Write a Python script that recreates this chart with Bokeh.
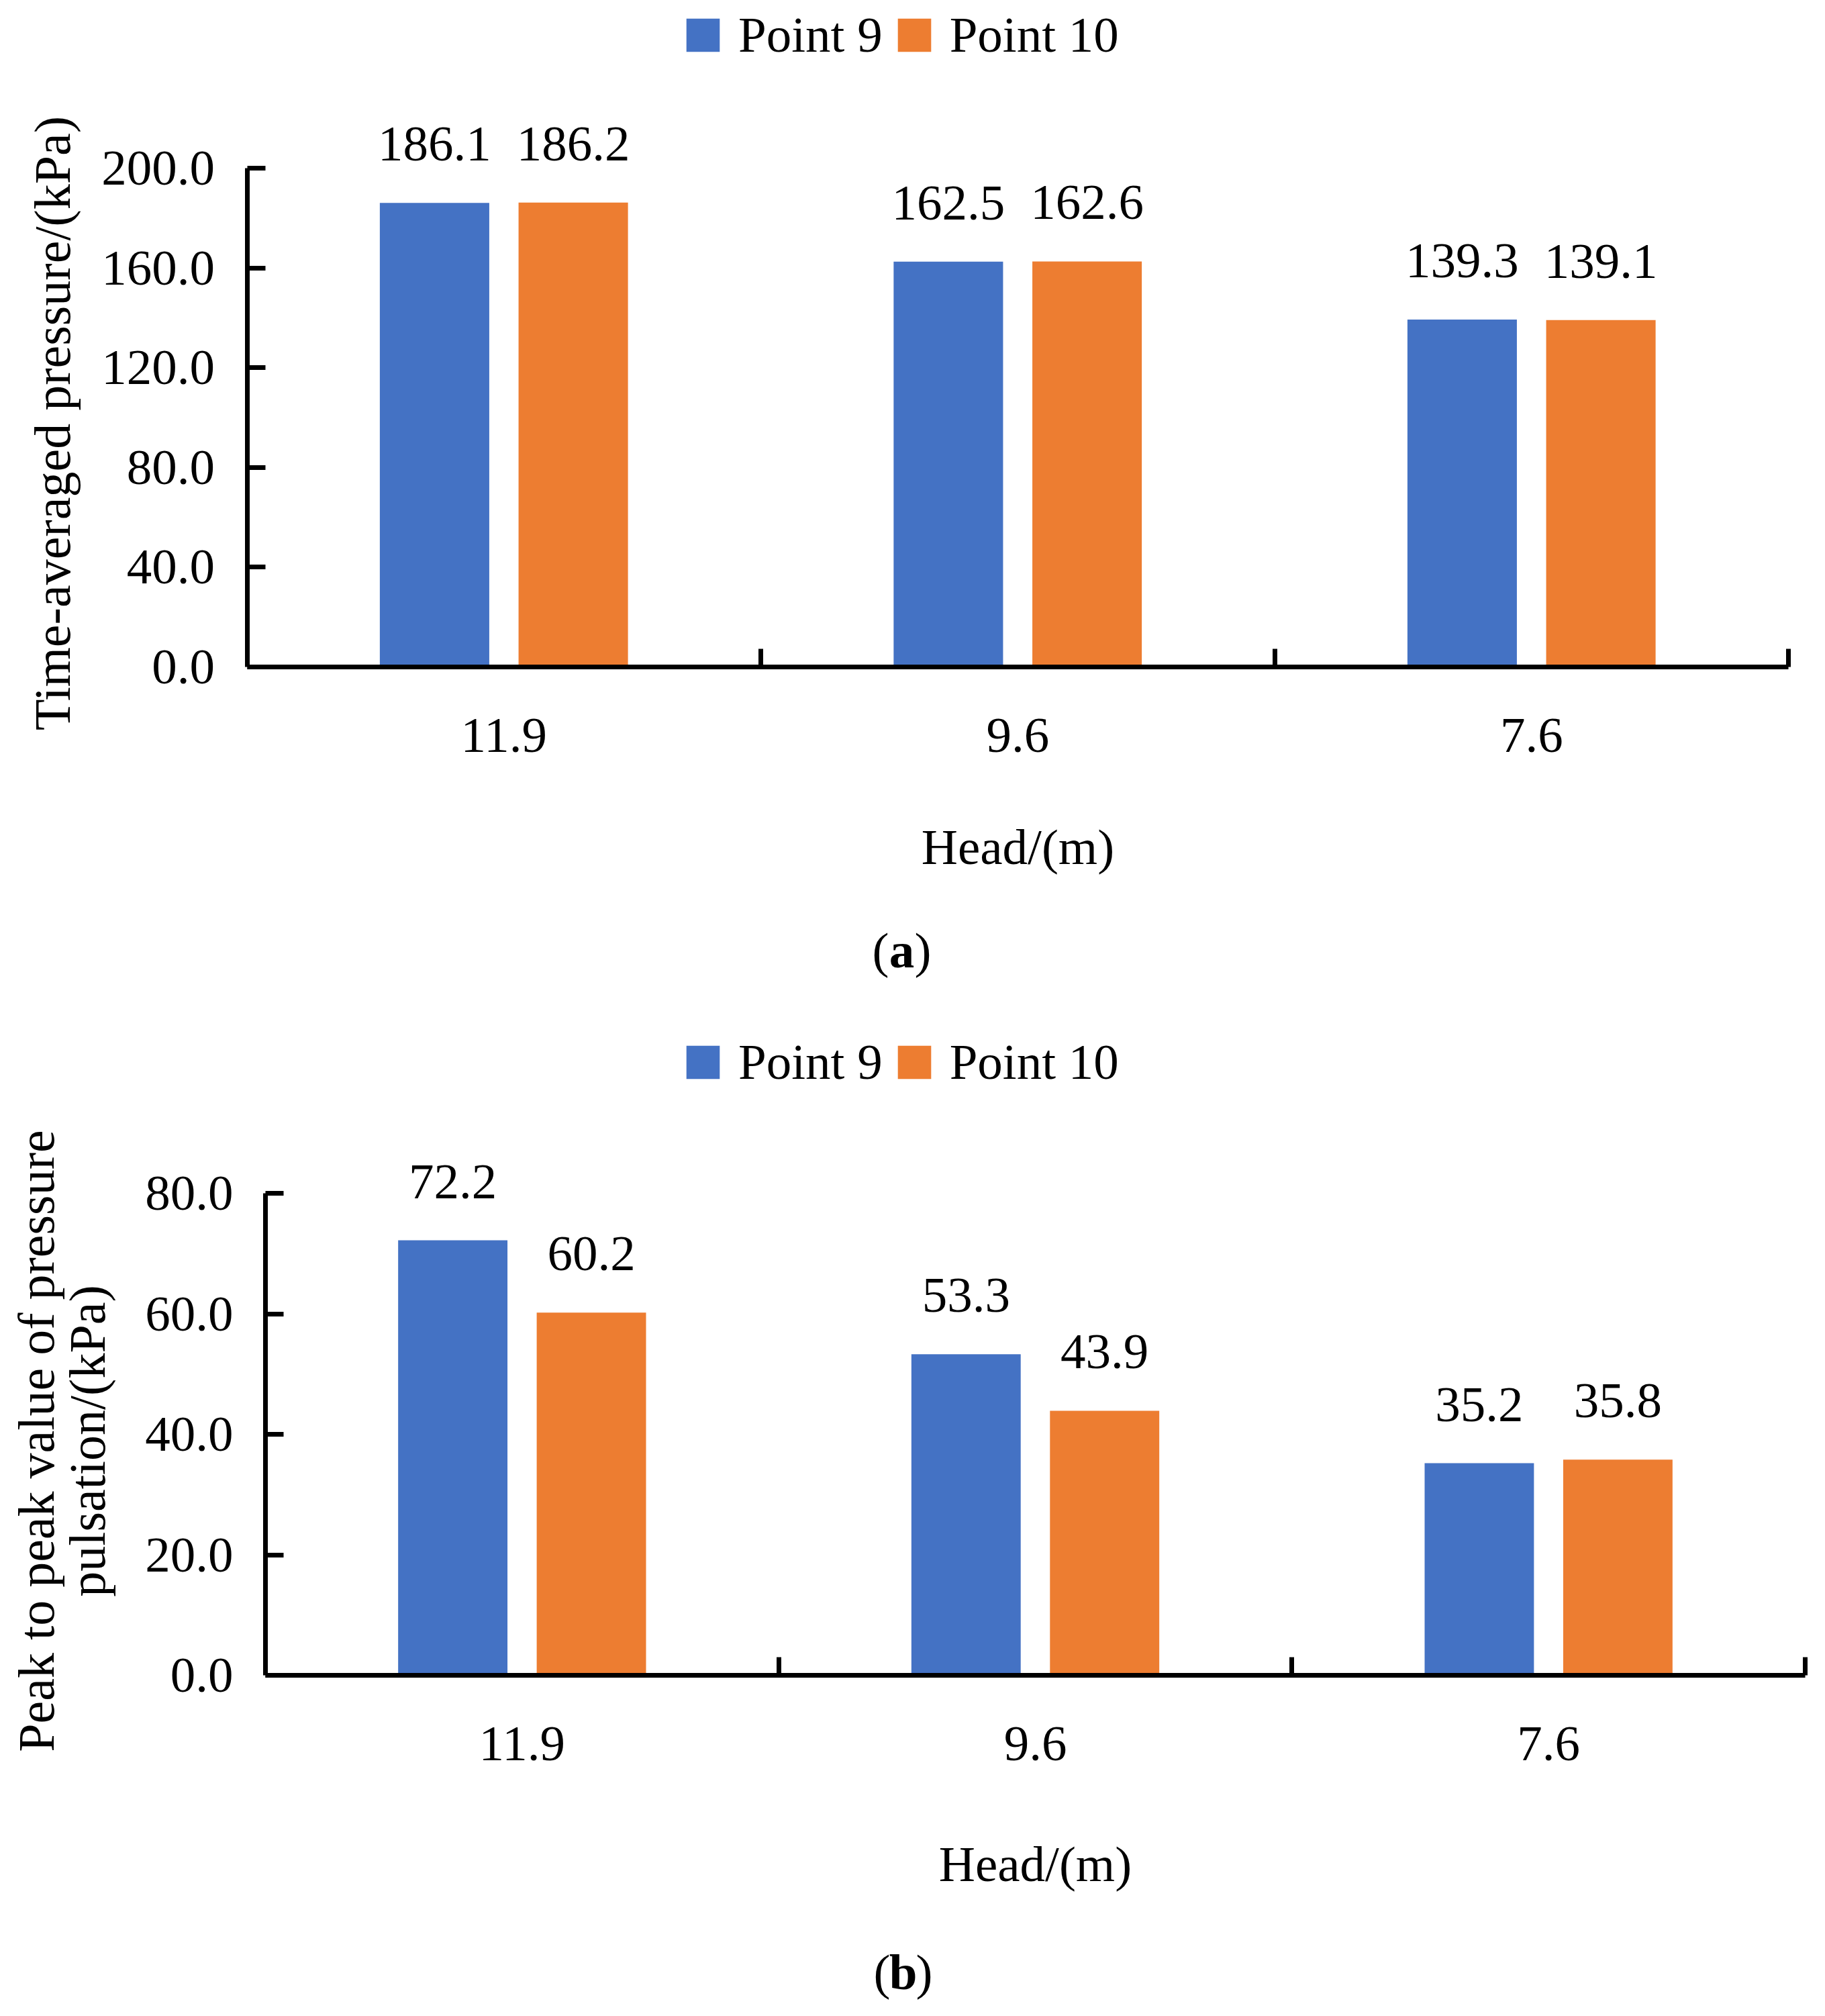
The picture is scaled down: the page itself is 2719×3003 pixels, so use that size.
import math
from bokeh.plotting import figure
from bokeh.models import (Range1d, FixedTicker, NumeralTickFormatter,
                          ColumnDataSource, LabelSet, Legend, LegendItem, Label)
from bokeh.core.properties import value
from bokeh.transform import dodge
from bokeh.layouts import column
from bokeh.embed import file_html
from bokeh.resources import INLINE

# ---- data ----
heads = ["11.9", "9.6", "7.6"]
series_names = ["Point 9", "Point 10"]
colors = ["#4472C4", "#ED7D31"]
avg_point9 = [186.1, 162.5, 139.3]
avg_point10 = [186.2, 162.6, 139.1]
ptp_point9 = [72.2, 53.3, 35.2]
ptp_point10 = [60.2, 43.9, 35.8]
avg_ticks = [0, 40, 80, 120, 160, 200]
ptp_ticks = [0, 20, 40, 60, 80]
xlabel = "Head/(m)"
ylabel_a = ["Time-averaged pressure/(kPa)"]
ylabel_b = ["Peak to peak value of pressure", "pulsation/(kPa)"]

FONT = "Liberation Serif"
FS = "75px"
YFS = "76px"
W = 2711

# category slots on a continuous axis: centre of slot i is i + 0.5
centers = [i + 0.5 for i in range(len(heads))]
bounds = [float(i) for i in range(1, len(heads) + 1)]


def make(v9, v10, ymax, yticks, H, box, legend_pos, ylabels, ylabel_xs, ylabel_cy,
         letter, letter_cx, letter_base, xlabel_standoff):
    left, right, top, bottom = box          # plot area inside the figure, pixels
    n = len(heads)
    ux = (right - left) / n
    uy = (bottom - top) / ymax
    p = figure(width=W, height=H,
               x_range=Range1d(-left / ux, n + (W - right) / ux),
               y_range=Range1d(-(H - bottom) / uy, ymax + top / uy),
               output_backend="svg", toolbar_location=None,
               min_border=0, min_border_left=0, min_border_right=0,
               min_border_top=0, min_border_bottom=0)
    p.outline_line_color = None
    p.grid.visible = False
    p.background_fill_color = "white"
    p.border_fill_color = "white"

    src = ColumnDataSource(dict(x=centers, head=heads, v9=v9, v10=v10,
                                t9=[f"{v:.1f}" for v in v9],
                                t10=[f"{v:.1f}" for v in v10]))
    off = 0.135
    bw = 0.213
    r9 = p.vbar(x=dodge("x", -off), top="v9", width=bw, source=src,
                fill_color=colors[0], line_color=None)
    r10 = p.vbar(x=dodge("x", off), top="v10", width=bw, source=src,
                 fill_color=colors[1], line_color=None)

    for col, tcol, dx in (("v9", "t9", -off), ("v10", "t10", off)):
        p.add_layout(LabelSet(x=dodge("x", dx), y=col, text=tcol, source=src,
                              text_align="center", text_baseline="alphabetic", y_offset=63,
                              text_font=value(FONT), text_font_size=value(FS),
                              text_color="black"))

    # y axis (drawn at x = 0, inside the figure)
    ya = p.yaxis[0]
    ya.fixed_location = 0
    ya.bounds = (0, ymax)
    ya.ticker = FixedTicker(ticks=yticks)
    ya.formatter = NumeralTickFormatter(format="0.0")
    ya.major_tick_in = 27
    ya.major_tick_out = 0
    ya.minor_tick_line_color = None
    ya.axis_line_width = 7
    ya.major_tick_line_width = 7
    ya.axis_line_color = "black"
    ya.major_tick_line_color = "black"
    ya.major_label_standoff = 48
    ya.major_label_text_font = FONT
    ya.major_label_text_font_size = FS
    ya.major_label_text_color = "black"

    # x axis at y = 0: category labels at slot centres, inward ticks at slot boundaries
    xa = p.xaxis[0]
    xa.fixed_location = 0
    xa.bounds = (0, n)
    xa.ticker = FixedTicker(ticks=centers, minor_ticks=bounds)
    xa.major_label_overrides = {c: h for c, h in zip(centers, heads)}
    xa.axis_line_width = 7
    xa.axis_line_color = "black"
    xa.major_tick_line_color = None
    xa.minor_tick_line_color = "black"
    xa.minor_tick_line_width = 7
    xa.minor_tick_in = 27
    xa.minor_tick_out = 0
    xa.major_tick_in = 0
    xa.major_tick_out = 0
    xa.major_label_standoff = 77
    xa.major_label_text_font = FONT
    xa.major_label_text_font_size = FS
    xa.major_label_text_color = "black"
    xa.axis_label = xlabel
    xa.axis_label_text_font = FONT
    xa.axis_label_text_font_size = FS
    xa.axis_label_text_font_style = "normal"
    xa.axis_label_text_color = "black"
    xa.axis_label_standoff = xlabel_standoff

    # y title, one Label per line, rotated to read upwards
    for txt, bx in zip(ylabels, ylabel_xs):
        p.add_layout(Label(x=bx, y=H - ylabel_cy, x_units="screen", y_units="screen",
                           text=txt, angle=math.pi / 2, text_align="center",
                           text_baseline="alphabetic", text_font=FONT, text_font_size=YFS,
                           text_color="black"))

    legend = Legend(items=[LegendItem(label=series_names[0], renderers=[r9]),
                           LegendItem(label=series_names[1], renderers=[r10])],
                    location=legend_pos, orientation="horizontal",
                    glyph_width=62, glyph_height=62, label_standoff=22, spacing=16,
                    padding=0, margin=0, border_line_color=None, background_fill_alpha=0,
                    label_text_font=FONT, label_text_font_size=FS, label_text_color="black")
    p.add_layout(legend, "center")

    # panel letter: "(" normal, letter bold, ")" normal
    ly = H - letter_base
    p.add_layout(Label(x=letter_cx, y=ly, x_units="screen", y_units="screen", text=letter,
                       text_font=FONT, text_font_size=FS, text_font_style="bold",
                       text_align="center", text_baseline="alphabetic", text_color="black"))
    p.add_layout(Label(x=letter_cx - 19, y=ly, x_units="screen", y_units="screen", text="(",
                       text_font=FONT, text_font_size=FS, text_align="right",
                       text_baseline="alphabetic", text_color="black"))
    p.add_layout(Label(x=letter_cx + 19, y=ly, x_units="screen", y_units="screen", text=")",
                       text_font=FONT, text_font_size=FS, text_align="left",
                       text_baseline="alphabetic", text_color="black"))
    return p


HA, HB = 1461, 1540
pa = make(avg_point9, avg_point10, 200, avg_ticks, HA, (367.5, 2664, 250, 993),
          (1016, HA - 52 - 43), ylabel_a, [77], 630, "a", 1343, 1415, 97)
pb = make(ptp_point9, ptp_point10, 80, ptp_ticks, HB, (395, 2689, 316, 1034),
          (1016, HB - 121 - 43), ylabel_b, [53, 129], 685, "b", 1345, 1476, 110)

layout = column(pa, pb, spacing=0)
open("out.html", "w").write(file_html(layout, INLINE))
